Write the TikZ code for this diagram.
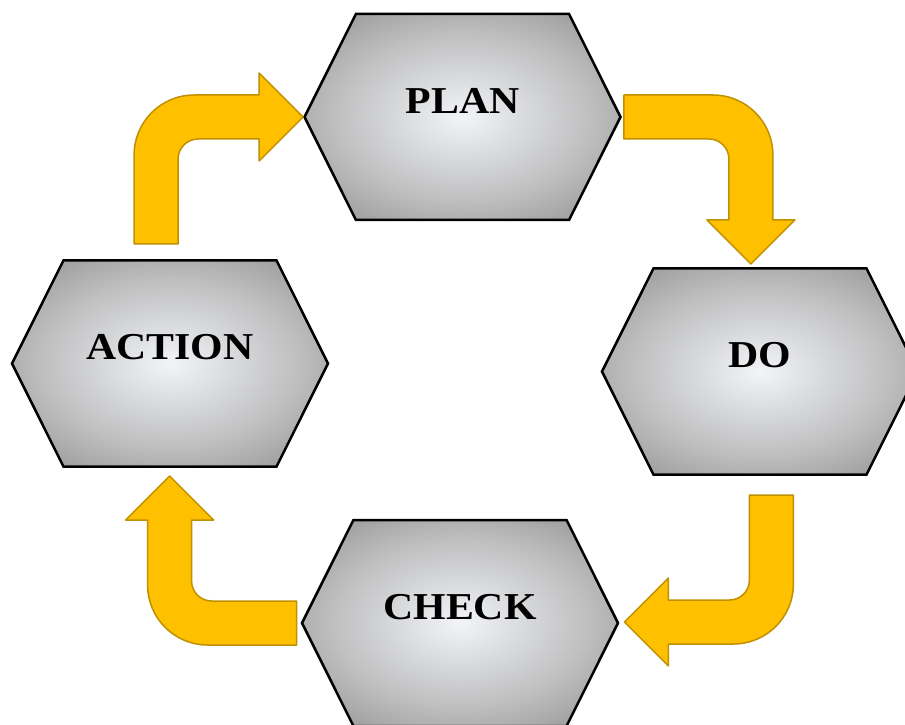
\documentclass[tikz,border=0pt]{standalone}
\usepackage{fontspec}
\setmainfont{Liberation Serif}[FakeStretch=1.1]
\usetikzlibrary{shapes.symbols}

\definecolor{arrowgold}{RGB}{255,192,0}
\definecolor{arrowedge}{RGB}{191,144,0}
\definecolor{hexlight}{RGB}{243,244,247}
\definecolor{hexmid}{RGB}{214,215,217}
\definecolor{hexrim}{RGB}{176,176,176}
\definecolor{hexdark}{RGB}{160,160,160}
\pgfdeclareradialshading{hexshade}{\pgfpoint{0bp}{0bp}}{color(0bp)=(hexlight); color(11bp)=(hexmid); color(20bp)=(hexrim!60!hexmid); color(25bp)=(hexrim); color(30bp)=(hexdark); color(50bp)=(hexdark)}

\tikzset{
  phase/.style={shape=signal, signal to=east and west, signal pointer angle=126.9,
    minimum width=316pt, minimum height=206pt, inner sep=0pt,
    draw=black, line width=2.5pt, shade, shading=hexshade,
    font=\fontsize{38}{40}\selectfont\bfseries, text height=25pt, text depth=32pt},
  turnarrow/.style={fill=arrowgold, draw=arrowedge, line width=1.5pt, line join=round},
  pics/bentarrow/.style={code={
    \filldraw[turnarrow] (-22,0) -- (-22,89) arc[start angle=180,end angle=90,radius=60]
      -- (103,149) -- (103,171) -- (147,127) -- (103,83) -- (103,105) -- (42,105)
      arc[start angle=90,end angle=180,radius=20] -- (22,0) -- cycle;
  }}
}

\begin{document}
\begin{tikzpicture}[x=1pt,y=1pt]
  \useasboundingbox (0,0) rectangle (905,724);

  % Phases of the cycle
  \node[phase] (PLAN) at (462.5,607) {PLAN};
  \node[phase] (DO) at (760,352.5) {DO};
  \node[phase] (CHECK) at (460,101) {CHECK};
  \node[phase] (ACTION) at (170,360.5) {ACTION};

  % Bent arrows between the phases
  \pic at ([shift={(-147,-127)}]PLAN.west) {bentarrow};
  \pic[rotate=-90] at ([xshift=2]PLAN.east) {bentarrow};
  \pic[rotate=180] at ([shift={(152,128)}]CHECK.east) {bentarrow};
  \pic[rotate=90] at ([xshift=-4]CHECK.west) {bentarrow};
\end{tikzpicture}
\end{document}
